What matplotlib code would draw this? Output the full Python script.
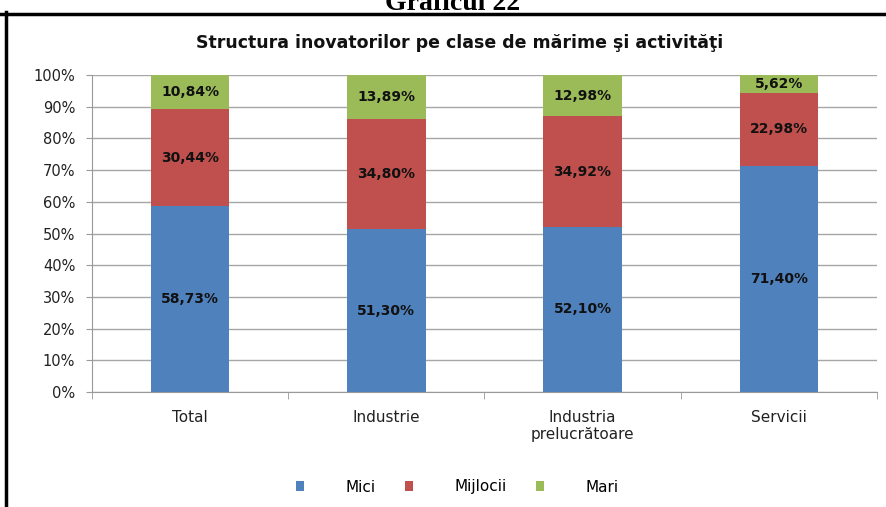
import matplotlib
matplotlib.use("Agg")
import matplotlib.pyplot as plt
from matplotlib.patches import Patch
from matplotlib.lines import Line2D
import numpy as np

# data
categories = ["Total", "Industrie", "Industria\nprelucrătoare", "Servicii"]
series = ["Mici", "Mijlocii", "Mari"]
mici = [58.73, 51.30, 52.10, 71.40]
mijlocii = [30.44, 34.80, 34.92, 22.98]
mari = [10.84, 13.89, 12.98, 5.62]
yticks = [0, 10, 20, 30, 40, 50, 60, 70, 80, 90, 100]

colors = ["#4F81BD", "#C0504D", "#9BBB59"]

plt.rcParams['font.family'] = ['DejaVu Sans']

fig = plt.figure(figsize=(8.86, 5.07), dpi=100)
ax = fig.add_axes([0.1038, 0.2268, 0.8860, 0.6252])

x = np.arange(len(categories))
bottom = np.zeros(len(categories))
for vals, col in zip([mici, mijlocii, mari], colors):
    vals = np.array(vals)
    ax.bar(x, vals, 0.4, bottom=bottom, color=col, zorder=3)
    for xi, b, v in zip(x, bottom, vals):
        ax.text(xi, b + v / 2, "{:.2f}%".format(v).replace(".", ","),
                ha="center", va="center", fontsize=10, fontweight="bold",
                color="#111111", zorder=4)
    bottom += vals

ax.set_xlim(-0.5, 3.5)
ax.set_ylim(0, 100)
ax.set_yticks(yticks)
ax.set_yticklabels(["{}%".format(t) for t in yticks], fontsize=10.5, color="#222222")
ax.set_xticks(x)
ax.set_xticklabels(categories, fontsize=11, color="#222222")
ax.set_xticks(np.arange(-0.5, 4, 1), minor=True)
ax.tick_params(axis="x", which="major", length=0, pad=13)
ax.tick_params(axis="x", which="minor", length=5, color="#999999")
ax.tick_params(axis="y", length=4, pad=8, color="#999999")
ax.grid(axis="y", color="#A6A6A6", lw=1, zorder=0)
for s in ["top", "right"]:
    ax.spines[s].set_visible(False)
for s in ["left", "bottom"]:
    ax.spines[s].set_color("#999999")
    ax.spines[s].set_zorder(5)

# title
fig.text(0.519, 1 - 43 / 507, "Structura inovatorilor pe clase de mărime şi activităţi",
         ha="center", va="center", fontsize=12.5, fontweight="bold", color="#111111")

# caption above the frame (cut off in the original)
fig.text(0.511, 1 - 10 / 507, "Graficul 22", ha="center", va="baseline",
         fontsize=20, fontweight="bold", family="Liberation Serif")

# legend
handles = [Patch(facecolor=c, edgecolor="none") for c in colors]
fig.legend(handles, series, loc="center", bbox_to_anchor=(0.516, 1 - 487 / 507),
           ncol=3, frameon=False, fontsize=11, handlelength=0.55, handleheight=0.55,
           handletextpad=2.7, columnspacing=1.9)

# black frame
fig.add_artist(Line2D([0, 1], [1 - 13.5 / 507] * 2, transform=fig.transFigure,
                      color="black", lw=2.5))
fig.add_artist(Line2D([6 / 886] * 2, [0, 1 - 12 / 507], transform=fig.transFigure,
                      color="black", lw=2.5))

fig.savefig("out.png", dpi=100)
